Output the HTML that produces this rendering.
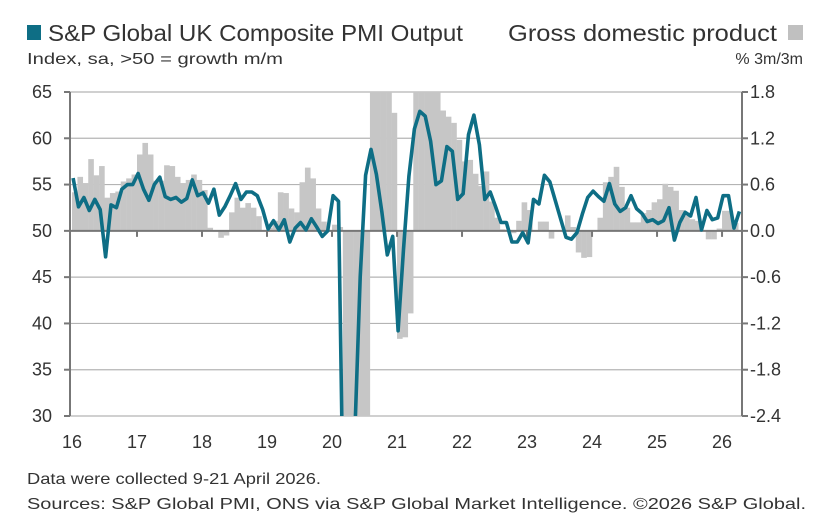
<!DOCTYPE html>
<html><head><meta charset="utf-8"><style>
html,body{margin:0;padding:0;background:#fff;overflow:hidden;width:832px;height:530px;font-family:"Liberation Sans",sans-serif;}
svg{display:block;}
svg text{font-family:"Liberation Sans",sans-serif;}
</style></head><body>
<svg id="chart" width="832" height="530" xmlns="http://www.w3.org/2000/svg">
<rect x="27" y="25" width="14" height="15" fill="#0e6e85"/>
<text x="48" y="41" font-size="23" fill="#333" textLength="415" lengthAdjust="spacingAndGlyphs">S&amp;P Global UK Composite PMI Output</text>
<text x="508" y="41" font-size="23" fill="#333" textLength="269" lengthAdjust="spacingAndGlyphs">Gross domestic product</text>
<rect x="788" y="25" width="15" height="15" fill="#c0c0c0"/>
<text x="27" y="64" font-size="16" fill="#333" textLength="256" lengthAdjust="spacingAndGlyphs">Index, sa, &gt;50 = growth m/m</text>
<text x="803" y="64" font-size="16" fill="#333" text-anchor="end">% 3m/3m</text>
<g id="grid"></g>
<g id="bars" clip-path="url(#clip)"></g>
<g id="axes"></g>
<g id="line" clip-path="url(#clip)"></g>
<defs><clipPath id="clip"><rect x="70" y="92" width="672" height="324"/></clipPath></defs>
<text x="27" y="484" font-size="16" fill="#333" textLength="294" lengthAdjust="spacingAndGlyphs">Data were collected 9-21 April 2026.</text>
<text x="27" y="509" font-size="16" fill="#333" textLength="779" lengthAdjust="spacingAndGlyphs">Sources: S&amp;P Global PMI, ONS via S&amp;P Global Market Intelligence. ©2026 S&amp;P Global.</text>
</svg>
<script>
const leftTicks=[65,60,55,50,45,40,35,30];
const rightTicks=["1.8","1.2","0.6","0.0","-0.6","-1.2","-1.8","-2.4"];
const yearLabels=["16","17","18","19","20","21","22","23","24","25","26"];
const pmi=[55.7,52.6,53.6,52.2,53.4,52.3,47.2,52.8,52.5,54.5,55,55,56.2,54.5,53.3,55,55.8,53.7,53.4,53.6,53.1,53.5,55.5,53.8,54.1,53,54.5,51.7,52.6,53.8,55.1,53.4,54.2,54.2,53.8,52.3,50.2,51.1,50.1,51.2,48.8,50.3,50.9,50.1,51.3,50.4,49.4,50,
53.8,53.2,15,14,28,45,56,58.8,56.1,52,47.4,49.4,39.2,48,55.9,61,62.9,62.4,59.7,55,55.4,59.1,58.6,53.4,54,60.4,62.5,59.3,53.4,54.2,52.6,50.9,
50.9,48.8,48.8,49.8,48.7,53.4,52.9,56,55.3,53.3,51.3,49.3,49.1,49.8,51.8,53.6,54.3,53.7,53.2,55.1,52.9,52.1,52.5,53.8,52.4,51.9,51,51.2,50.8,51.1,52.5,49,50.9,52,51.6,53.6,50.1,52.2,51.2,51.4,53.8,53.8,50.3,52.1];
const gdp=[0.5,0.7,0.62,0.93,0.72,0.84,0.43,0.49,0.51,0.64,0.68,0.73,0.99,1.14,0.99,0.65,0.65,0.85,0.84,0.7,0.62,0.66,0.73,0.66,0.53,0.04,-0.01,-0.09,-0.06,0.24,0.43,0.3,0.36,0.3,0.19,0.01,0.04,0.13,0.5,0.49,0.29,0.24,0.63,0.82,0.68,0.29,0.12,0.0,0.08,0.05,
-8,-8,-8,-8,-8,8,8,8,8,1.53,-1.4,-1.38,-1.07,5,5,5,5,5,1.56,1.48,1.4,1.18,0.9,0.92,0.74,0.58,0.77,0.38,0.17,0.02,0.0,-0.03,
0.13,0.37,0.27,0.0,0.12,0.12,-0.1,0,0,0.2,0.05,-0.28,-0.35,-0.34,0,0.17,0.63,0.7,0.83,0.57,0.3,0.11,0.11,0.23,0.27,0.37,0.41,0.61,0.57,0.52,0.27,0.2,0.15,0.13,0,-0.11,-0.11,0.03,0.26,0.26,0.1];
const NS="http://www.w3.org/2000/svg";
const L=70,R=742,T=92,B=416,MW=5.417,X0=72;
const yL=v=>T+(65-v)*(B-T)/35;
const yR=v=>T+(1.8-v)*(B-T)/4.2;
const xM=i=>X0+i*MW;
function mk(t,a,p){const e=document.createElementNS(NS,t);for(const k in a)e.setAttribute(k,a[k]);p.appendChild(e);return e;}
const grid=document.getElementById('grid'),axes=document.getElementById('axes');
leftTicks.forEach((v,i)=>{
  if(v!==50){const g=mk('line',{x1:L,x2:R,y1:yL(v),y2:yL(v),stroke:'#b4b4b4','stroke-width':1.2},grid);
  
  }
  const t=mk('text',{x:52,y:yL(v)+6,'font-size':18,fill:'#333','text-anchor':'end'},axes);t.textContent=v;
  
  
  const t2=mk('text',{x:750,y:yL(v)+6,'font-size':18,fill:'#333'},axes);t2.textContent=rightTicks[i];
  
  
  mk('line',{x1:L-6,x2:L,y1:yL(v),y2:yL(v),stroke:'#777','stroke-width':2},axes);
  mk('line',{x1:R,x2:R+6,y1:yL(v),y2:yL(v),stroke:'#777','stroke-width':2},axes);
});
const bars=document.getElementById('bars');
gdp.forEach((v,i)=>{
  const y0=yR(0),y1=yR(v);
  const r=mk('rect',{x:xM(i),y:Math.min(y0,y1),width:MW+0.2,height:Math.abs(y1-y0),fill:'#c6c6c6'},bars);
  
  
});
const base=mk('line',{x1:L,x2:R,y1:yL(50),y2:yL(50),stroke:'#777','stroke-width':2},axes);


yearLabels.forEach((s,i)=>{
  const x=xM(i*12);
  if(i>0)mk('line',{x1:x,x2:x,y1:yL(50),y2:yL(50)+6,stroke:'#777','stroke-width':2},axes);
  const t=mk('text',{x:x,y:448,'font-size':18,fill:'#333','text-anchor':'middle'},axes);t.textContent=s;
  
  
});
const la=mk('line',{x1:L,x2:L,y1:T,y2:B,stroke:'#777','stroke-width':2},axes);


const ra=mk('line',{x1:R,x2:R,y1:T,y2:B,stroke:'#777','stroke-width':2},axes);


const pts=pmi.map((v,i)=>xM(i+0.2).toFixed(1)+','+yL(v).toFixed(1)).join(' ');
const pl=mk('polyline',{points:pts,fill:'none',stroke:'#0e6e85','stroke-width':3.6,'stroke-linejoin':'round'},document.getElementById('line'));


</script>
</body></html>
